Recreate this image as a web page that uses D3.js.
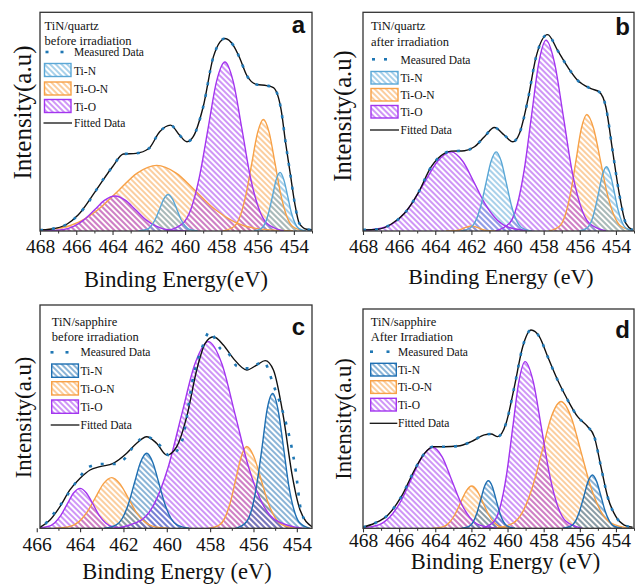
<!DOCTYPE html>
<html><head><meta charset="utf-8">
<script src="https://cdn.jsdelivr.net/npm/d3@7"></script>
<style>
body{margin:0;background:#fff;}
svg{display:block;}
text{font-family:"Liberation Serif","Times New Roman","DejaVu Serif",serif;fill:#111;}
</style></head><body>
<svg id="chart" width="635" height="584"></svg>
<script>
// ---------- tick labels ----------
const majorA = [468,466,464,462,460,458,456,454];
const minorA = [467,465,463,461,459,457,455,453];
const majorC = [466,464,462,460,458,456,454];
const minorC = [465,463,461,459,457,455];
const seriesNames = ["Ti-N","Ti-O-N","Ti-O"];

// ---------- panel a : TiN/quartz before irradiation ----------
const tiN_a1 = [[462.58,0],[462.11,0.7],[461.87,2.3],[461.64,5.4],[461.40,10.1],[461.17,14.7],[460.93,16.7],[460.70,14.7],[460.46,10.1],[460.23,5.4],[459.99,2.3],[459.76,0.7],[459.29,0]];
const tiN_a2 = [[456.20,0],[455.79,1.2],[455.58,3.6],[455.38,8.7],[455.17,16.3],[454.97,23.6],[454.76,26.8],[454.56,23.6],[454.35,16.3],[454.15,8.7],[453.94,3.6],[453.74,1.2],[453.33,0]];
const tiON_a1 = [[469.09,0],[466.94,1.3],[465.86,4.1],[464.79,9.8],[463.71,18.2],[462.64,26.5],[461.56,30],[460.49,26.5],[459.41,18.2],[458.34,9.8],[457.26,4.1],[456.19,1.3],[454.04,0]];
const tiON_a2 = [[457.92,0],[457.28,2.2],[456.96,6.9],[456.64,16.6],[456.32,31.0],[456.00,45.0],[455.68,51],[455.36,45.0],[455.04,31.0],[454.72,16.6],[454.40,6.9],[454.08,2.2],[453.44,0]];
const tiO_a1 = [[467.82,0],[466.69,0.7],[466.12,2.2],[465.56,5.2],[464.99,9.7],[464.43,14.1],[463.86,16],[463.30,14.1],[462.73,9.7],[462.17,5.2],[461.60,2.2],[461.04,0.7],[459.91,0]];
const tiO_a2 = [[461.06,0],[460.13,3.4],[459.66,10.4],[459.20,25.1],[458.73,46.9],[458.27,68.2],[457.80,77.3],[457.34,68.2],[456.87,46.9],[456.41,25.1],[455.94,10.4],[455.48,3.4],[454.55,0]];
const fitA = [[468.0,0.5],[467.45,0.8],[466.5,3.2],[465.9,7.3],[464.9,18.7],[464.0,29.4],[463.4,35.2],[462.7,35.5],[462.0,37.7],[461.4,45.4],[460.8,48.4],[460.3,43.8],[459.9,40.8],[459.55,43.1],[459.0,56.8],[458.44,79.6],[458.07,86.5],[457.8,88.0],[457.34,84.9],[456.97,78.8],[456.6,71.2],[456.05,67.0],[455.5,66.5],[455.13,65.6],[454.7,55.3],[454.45,40.0],[454.2,26.3],[453.95,12.6],[453.7,3.5],[453.3,0.8],[453.0,0.5]];
const measA = [[468.0,0.4],[467.2,1.2],[466.5,3.2],[465.9,7.3],[465.3,13.5],[464.9,18.7],[464.4,25.0],[464.0,29.4],[463.4,35.2],[462.7,35.5],[462.0,37.7],[461.4,45.4],[460.8,48.4],[460.3,43.8],[459.9,40.8],[459.55,43.1],[459.0,56.8],[458.44,79.6],[458.07,86.5],[457.8,88.0],[457.34,84.9],[456.97,78.8],[456.6,71.2],[456.05,67.0],[455.5,66.5],[455.13,65.6],[454.7,55.3],[454.45,40.0],[454.2,26.3],[453.95,12.6],[453.7,3.5],[453.3,0.8],[453.0,0.5]];

// ---------- panel b : TiN/quartz after irradiation ----------
const tiN_b1 = [[462.59,0],[462.03,1.6],[461.75,4.9],[461.47,11.8],[461.19,22.0],[460.91,31.9],[460.63,36.2],[460.35,31.9],[460.07,22.0],[459.79,11.8],[459.51,4.9],[459.23,1.6],[458.67,0]];
const tiN_b2 = [[456.03,0],[455.60,1.3],[455.38,4.0],[455.17,9.6],[454.95,17.8],[454.74,25.9],[454.52,29.4],[454.31,25.9],[454.09,17.8],[453.88,9.6],[453.66,4.0],[453.45,1.3],[453.02,0]];
const tiON_b1 = [[463.4,0],[463.0,0.1],[462.8,0.3],[462.6,0.7],[462.4,1.4],[462.2,2.0],[462.0,2.3],[461.8,2.0],[461.6,1.4],[461.4,0.7],[461.2,0.3],[461.0,0.1],[460.6,0]];
const tiON_b2 = [[457.71,0],[457.11,2.3],[456.81,7.2],[456.51,17.3],[456.21,32.3],[455.91,47.0],[455.61,53.3],[455.24,47.0],[454.86,32.3],[454.49,17.3],[454.11,7.2],[453.74,2.3],[452.99,0]];
const tiO_b1 = [[468.34,0],[466.85,1.6],[466.10,4.9],[465.36,11.8],[464.61,22.0],[463.87,31.9],[463.12,36.2],[462.48,31.9],[461.84,22.0],[461.20,11.8],[460.56,4.9],[459.92,1.6],[458.64,0]];
const tiO_b2 = [[460.67,0],[459.87,3.8],[459.47,11.8],[459.07,28.3],[458.67,52.9],[458.27,76.9],[457.87,87.2],[457.40,76.9],[456.92,52.9],[456.45,28.3],[455.97,11.8],[455.50,3.8],[454.55,0]];
const fitB = [[468.0,0.5],[467.17,0.8],[466.43,3.2],[465.70,8.1],[464.96,17.2],[464.22,29.4],[463.49,35.5],[463.12,36.5],[462.38,36.7],[461.83,38.5],[461.28,43.1],[460.73,47.3],[460.17,43.8],[459.71,40.8],[459.34,44.6],[458.88,59.8],[458.42,79.6],[457.78,89.8],[457.23,82.6],[456.67,75.0],[456.12,68.9],[455.38,65.1],[454.92,63.6],[454.56,56.8],[454.19,37.0],[453.82,17.2],[453.45,3.5],[453.08,0.5]];
const measB = [[468.0,0.5],[467.17,0.8],[466.43,3.2],[465.70,8.1],[464.96,17.2],[464.22,29.4],[463.49,35.5],[463.12,36.5],[462.38,36.7],[461.83,38.5],[461.28,43.1],[460.73,47.3],[460.17,43.8],[459.71,40.8],[459.34,44.6],[458.88,59.8],[458.42,79.6],[457.78,89.8],[457.23,82.6],[456.67,75.0],[456.12,68.9],[455.38,65.1],[454.92,63.6],[454.56,56.8],[454.19,37.0],[453.82,17.2],[453.45,3.5],[453.08,0.5]];

// ---------- panel c : TiN/sapphire before irradiation ----------
const tiN_c1 = [[462.89,0],[462.33,1.5],[462.05,4.5],[461.77,10.9],[461.49,20.4],[461.21,29.6],[460.93,33.6],[460.65,29.6],[460.37,20.4],[460.09,10.9],[459.81,4.5],[459.53,1.5],[458.97,0]];
const tiN_c2 = [[456.83,0],[456.34,2.7],[456.09,8.2],[455.85,19.6],[455.60,36.6],[455.37,53.3],[455.11,60.4],[454.87,53.3],[454.62,36.6],[454.38,19.6],[454.13,8.2],[453.89,2.7],[453.40,0]];
const tiON_c1 = [[465.17,0],[464.42,1.0],[464.04,3.1],[463.67,7.4],[463.29,13.8],[462.92,20.0],[462.54,22.7],[462.17,20.0],[461.79,13.8],[461.42,7.4],[461.04,3.1],[460.67,1.0],[459.92,0]];
const tiON_c2 = [[458.06,0],[457.56,1.6],[457.31,4.9],[457.06,11.9],[456.81,22.2],[456.56,32.3],[456.31,36.6],[455.99,32.3],[455.66,22.2],[455.34,11.9],[455.01,4.9],[454.69,1.6],[454.04,0]];
const tiO_c1 = [[466.07,0],[465.48,0.8],[465.18,2.4],[464.89,5.8],[464.59,10.9],[464.30,15.8],[464.0,17.9],[463.71,15.8],[463.41,10.9],[463.12,5.8],[462.82,2.4],[462.53,0.8],[461.94,0]];
const tiO_c2 = [[462.42,0],[461.18,3.7],[460.56,11.3],[459.94,27.2],[459.32,50.7],[458.70,73.7],[458.08,83.6],[457.46,73.7],[456.84,50.7],[456.22,27.2],[455.60,11.3],[454.98,3.7],[453.74,0]];
const fitC = [[465.85,0.4],[465.39,3.7],[464.93,9.7],[464.47,17.2],[464.0,22.4],[463.54,26.1],[463.08,27.6],[462.47,29.1],[461.85,33.6],[461.39,38.1],[460.93,41.0],[460.47,38.1],[460.0,32.8],[459.54,36.6],[459.08,50.0],[458.62,70.9],[458.23,82.8],[457.85,85.8],[457.39,82.1],[456.93,76.1],[456.31,70.9],[455.85,73.1],[455.46,75.1],[455.08,70.9],[454.62,50.0],[454.23,24.6],[453.85,8.2],[453.3,0.7]];
const measC = [[465.6,2.0],[465.39,4.5],[464.85,11.2],[464.43,17.2],[464.03,22.8],[463.57,27.6],[463.0,28.8],[462.39,28.8],[461.93,31.3],[461.47,37.6],[460.93,41.0],[460.39,37.8],[459.85,32.5],[459.31,38.8],[458.77,68.2],[458.31,82.5],[458.03,88.1],[457.54,80.6],[457.16,78.4],[456.77,72.7],[456.23,71.6],[455.54,74.6],[455.05,63.4],[454.77,56.0],[454.54,48.5],[454.31,39.6],[454.08,27.6],[453.77,6.4],[453.39,1.5]];

// ---------- panel d : TiN/sapphire after irradiation ----------
const tiN_d1 = [[462.53,0],[462.11,1.0],[461.90,2.9],[461.69,7.1],[461.48,13.2],[461.27,19.2],[461.06,21.7],[460.85,19.2],[460.64,13.2],[460.43,7.1],[460.22,2.9],[460.01,1.0],[459.59,0]];
const tiN_d2 = [[456.95,0],[456.48,1.1],[456.24,3.3],[456.01,7.9],[455.77,14.7],[455.54,21.4],[455.30,24.3],[455.07,21.4],[454.83,14.7],[454.60,7.9],[454.36,3.3],[454.13,1.1],[453.66,0]];
const tiON_d1 = [[464.15,0],[463.53,0.8],[463.22,2.6],[462.91,6.3],[462.60,11.7],[462.29,17.0],[461.98,19.3],[461.67,17.0],[461.36,11.7],[461.05,6.3],[460.74,2.6],[460.43,0.8],[459.81,0]];
const tiON_d2 = [[460.72,0],[459.67,2.5],[459.14,7.8],[458.62,18.8],[458.09,35.1],[457.57,51.0],[457.04,57.8],[456.49,51.0],[455.94,35.1],[455.39,18.8],[454.84,7.8],[454.29,2.5],[453.19,0]];
const tiO_d1 = [[468.33,0],[467.13,1.6],[466.53,5.0],[465.93,12.0],[465.33,22.4],[464.73,32.6],[464.13,36.9],[463.62,32.6],[463.11,22.4],[462.60,12.0],[462.09,5.0],[461.58,1.6],[460.56,0]];
const tiO_d2 = [[461.41,0],[460.73,3.3],[460.39,10.3],[460.05,24.7],[459.71,46.1],[459.37,67.0],[459.03,76],[458.58,67.0],[458.13,46.1],[457.68,24.7],[457.23,10.3],[456.78,3.3],[455.88,0]];
const fitD = [[468.0,0.5],[467.36,2.3],[466.62,6.1],[465.88,14.4],[465.15,26.6],[464.59,34.2],[464.13,37.2],[463.49,37.2],[462.75,37.5],[462.01,39.5],[461.28,42.6],[460.91,43.0],[460.54,41.8],[460.08,47.9],[459.62,64.6],[459.16,82.8],[458.70,90.4],[458.24,87.4],[457.78,78.3],[457.23,67.6],[456.67,58.5],[456.12,50.9],[455.57,46.4],[455.20,41.8],[454.83,28.1],[454.46,14.4],[454.0,5.3],[453.54,1.5],[453.08,0.5]];
const measD = [[468.0,0.5],[467.36,2.3],[466.62,6.1],[465.88,14.4],[465.15,26.6],[464.59,34.2],[464.13,37.2],[463.49,37.2],[462.75,37.5],[462.01,39.5],[461.28,42.6],[460.91,43.0],[460.54,41.8],[460.08,47.9],[459.62,64.6],[459.16,82.8],[458.70,90.4],[458.24,87.4],[457.78,78.3],[457.23,67.6],[456.67,58.5],[456.12,50.9],[455.57,46.4],[455.20,41.8],[454.83,28.1],[454.46,14.4],[454.0,5.3],[453.54,1.5],[453.08,0.5]];

// ---------- drawing ----------
const SERIF = "'Liberation Serif','Times New Roman','DejaVu Serif',serif";
const svg = d3.select("#chart");
const defs = svg.append("defs");
const COL = {tinL:"#5aa7d6", tinD:"#1f6fb2", tion:"#f7a147", tio:"#a335ef", meas:"#1f77b4"};
function hatch(id, color){
  const p = defs.append("pattern").attr("id", id).attr("patternUnits","userSpaceOnUse")
    .attr("width",4).attr("height",4).attr("patternTransform","rotate(45)");
  p.append("line").attr("x1",-1).attr("y1",2).attr("x2",5).attr("y2",2)
    .attr("stroke",color).attr("stroke-width",1.05);
}
hatch("hTinL", COL.tinL); hatch("hTinD", COL.tinD); hatch("hTion", COL.tion); hatch("hTio", COL.tio);

const panels = [
  {key:"a", box:[40,12.3,312,231], dom:[468,453], major:majorA, minor:minorA,
   peaks:[[tiON_a1,"tion"],[tiON_a2,"tion"],[tiO_a1,"tio"],[tiO_a2,"tio"],[tiN_a1,"tinL"],[tiN_a2,"tinL"]],
   fit:fitA, meas:measA, ncol:"tinL", xt:"Binding Energy(eV)", xtPos:[176,287], xtSize:22.5,
   yt:[31,112.5,25], lab:[305,33], tickBase:253,
   lg:{h:["TiN/quartz","before irradiation"], x:44.5, tx:74, hy:[29.5,44.5], dy:52, dx:[45.5,60.5], my:56, by:[63.5,82,99.5], bw:26.5, bh:13, fy:123}},
  {key:"b", box:[363,12.3,634,231], dom:[468,453], major:majorA, minor:minorA,
   peaks:[[tiON_b1,"tion"],[tiON_b2,"tion"],[tiO_b1,"tio"],[tiO_b2,"tio"],[tiN_b1,"tinL"],[tiN_b2,"tinL"]],
   fit:fitB, meas:measB, ncol:"tinL", xt:"Binding Energy (eV)", xtPos:[501,284], xtSize:22,
   yt:[351,116,24.5], lab:[630,35], tickBase:253,
   lg:{h:["TiN/quartz","after irradiation"], x:371, tx:400.5, hy:[29.5,45.5], dy:59.3, dx:[372,384], my:63.5, by:[71.5,88.5,105.5], bw:27, bh:12.5, fy:130}},
  {key:"c", box:[40,305,312,528.3], dom:[465.85,453.3], major:majorC, minor:minorC,
   peaks:[[tiON_c1,"tion"],[tiON_c2,"tion"],[tiO_c1,"tio"],[tiO_c2,"tio"],[tiN_c1,"tinD"],[tiN_c2,"tinD"]],
   fit:fitC, meas:measC, ncol:"tinD", xt:"Binding Energy (eV)", xtPos:[177,579], xtSize:22.5,
   yt:[31,417.5,22.7], lab:[305,335], tickBase:551,
   lg:{h:["TiN/sapphire","before irradiation"], x:51.7, tx:80.5, hy:[325.5,340.5], dy:352.3, dx:[50.5,65.5], my:356, by:[364,381.7,400], bw:26.7, bh:13.3, fy:425}},
  {key:"d", box:[363,309,634,528.3], dom:[468,453], major:majorA, minor:minorA,
   peaks:[[tiON_d1,"tion"],[tiON_d2,"tion"],[tiO_d1,"tio"],[tiO_d2,"tio"],[tiN_d1,"tinD"],[tiN_d2,"tinD"]],
   fit:fitD, meas:measD, ncol:"tinD", xt:"Binding Energy (eV)", xtPos:[505.5,569], xtSize:22.5,
   yt:[351,419,22.7], lab:[630,338], tickBase:546.5,
   lg:{h:["TiN/sapphire","After Irradiation"], x:370.7, tx:398, hy:[325.5,340.5], dy:351.7, dx:[370,386.5], my:355.5, by:[363.3,380.7,398.3], bw:25.6, bh:12.7, fy:423.3}}
];

const pat = {tinL:"hTinL", tinD:"hTinD", tion:"hTion", tio:"hTio"};

panels.forEach(p => {
  const [x0,y0,x1,y1] = p.box;
  const x = d3.scaleLinear().domain(p.dom).range([x0,x1]);
  const y = d3.scaleLinear().domain([0,100]).range([y1,y0]);
  const cid = "clip"+p.key;
  defs.append("clipPath").attr("id",cid).append("rect").attr("x",x0).attr("y",y0).attr("width",x1-x0).attr("height",y1-y0);
  const g = svg.append("g").attr("clip-path",`url(#${cid})`);
  const area = d3.area().x(d=>x(d[0])).y0(y(0)).y1(d=>y(d[1])).curve(d3.curveMonotoneX);
  const line = d3.line().x(d=>x(d[0])).y(d=>y(d[1])).curve(d3.curveMonotoneX);
  p.peaks.forEach(([data,k]) => {
    g.append("path").attr("d",area(data)).attr("fill",`url(#${pat[k]})`);
  });
  p.peaks.forEach(([data,k]) => {
    g.append("path").attr("d",line(data)).attr("fill","none").attr("stroke",COL[k]).attr("stroke-width",1.4);
  });
  g.append("path").attr("d",line(p.fit)).attr("fill","none").attr("stroke","#111").attr("stroke-width",1.4);
  g.append("path").attr("d",line(p.meas)).attr("fill","none").attr("stroke",COL.meas)
    .attr("stroke-width",2.6).attr("stroke-dasharray","3,9");
  // frame
  svg.append("rect").attr("x",x0).attr("y",y0).attr("width",x1-x0).attr("height",y1-y0)
    .attr("fill","none").attr("stroke","#333").attr("stroke-width",1.3);
  // axes
  const ax = svg.append("g").attr("transform",`translate(0,${y1})`)
    .call(d3.axisBottom(x).tickValues(p.major).tickSize(4).tickPadding(p.tickBase - y1 - 4 - 13.8).tickFormat(d3.format("d")));
  ax.select(".domain").remove();
  ax.attr("font-family", null);
  ax.selectAll("text").style("font-family",SERIF).style("font-size","19.5px").attr("fill","#111");
  ax.selectAll("line").attr("stroke","#333").attr("stroke-width",1.1);
  const mx = svg.append("g").attr("transform",`translate(0,${y1})`)
    .call(d3.axisBottom(x).tickValues(p.minor).tickSize(2.5).tickFormat(""));
  mx.select(".domain").remove();
  mx.selectAll("line").attr("stroke","#333").attr("stroke-width",1);
  // titles
  svg.append("text").attr("x",p.xtPos[0]).attr("y",p.xtPos[1]).attr("text-anchor","middle")
    .style("font-family",SERIF).style("font-size",p.xtSize+"px").text(p.xt);
  svg.append("text").attr("transform",`translate(${p.yt[0]},${p.yt[1]}) rotate(-90)`).attr("text-anchor","middle")
    .style("font-family",SERIF).style("font-size",p.yt[2]+"px").text("Intensity(a.u)");
  svg.append("text").attr("x",p.lab[0]).attr("y",p.lab[1]).attr("text-anchor","end")
    .style("font-family","'Liberation Sans',Arial,sans-serif").style("font-weight","bold").style("font-size","24px")
    .attr("fill","#222").text(p.key);
  // legend
  const L = p.lg;
  L.h.forEach((t,i)=> svg.append("text").attr("x",L.x).attr("y",L.hy[i]).style("font-family",SERIF).style("font-size","12.5px").text(t));
  L.dx.forEach(dx => svg.append("rect").attr("x",dx).attr("y",L.dy-1.3).attr("width",3).attr("height",2.6).attr("fill",COL.meas));
  svg.append("text").attr("x",L.tx).attr("y",L.my).style("font-family",SERIF).style("font-size","11.5px").text("Measured Data");
  const keys = [p.ncol,"tion","tio"];
  keys.forEach((k,i)=>{
    svg.append("rect").attr("x",L.x).attr("y",L.by[i]).attr("width",L.bw).attr("height",L.bh)
      .attr("fill",`url(#${pat[k]})`).attr("stroke",COL[k]).attr("stroke-width",1.4);
    svg.append("text").attr("x",L.tx).attr("y",L.by[i]+L.bh-2).style("font-family",SERIF).style("font-size","11.5px").text(seriesNames[i]);
  });
  svg.append("line").attr("x1",L.x-1).attr("x2",L.x+L.bw+1).attr("y1",L.fy).attr("y2",L.fy).attr("stroke","#111").attr("stroke-width",1.3);
  svg.append("text").attr("x",L.tx).attr("y",L.fy+4).style("font-family",SERIF).style("font-size","11.5px").text("Fitted Data");
});
</script>
</body></html>
